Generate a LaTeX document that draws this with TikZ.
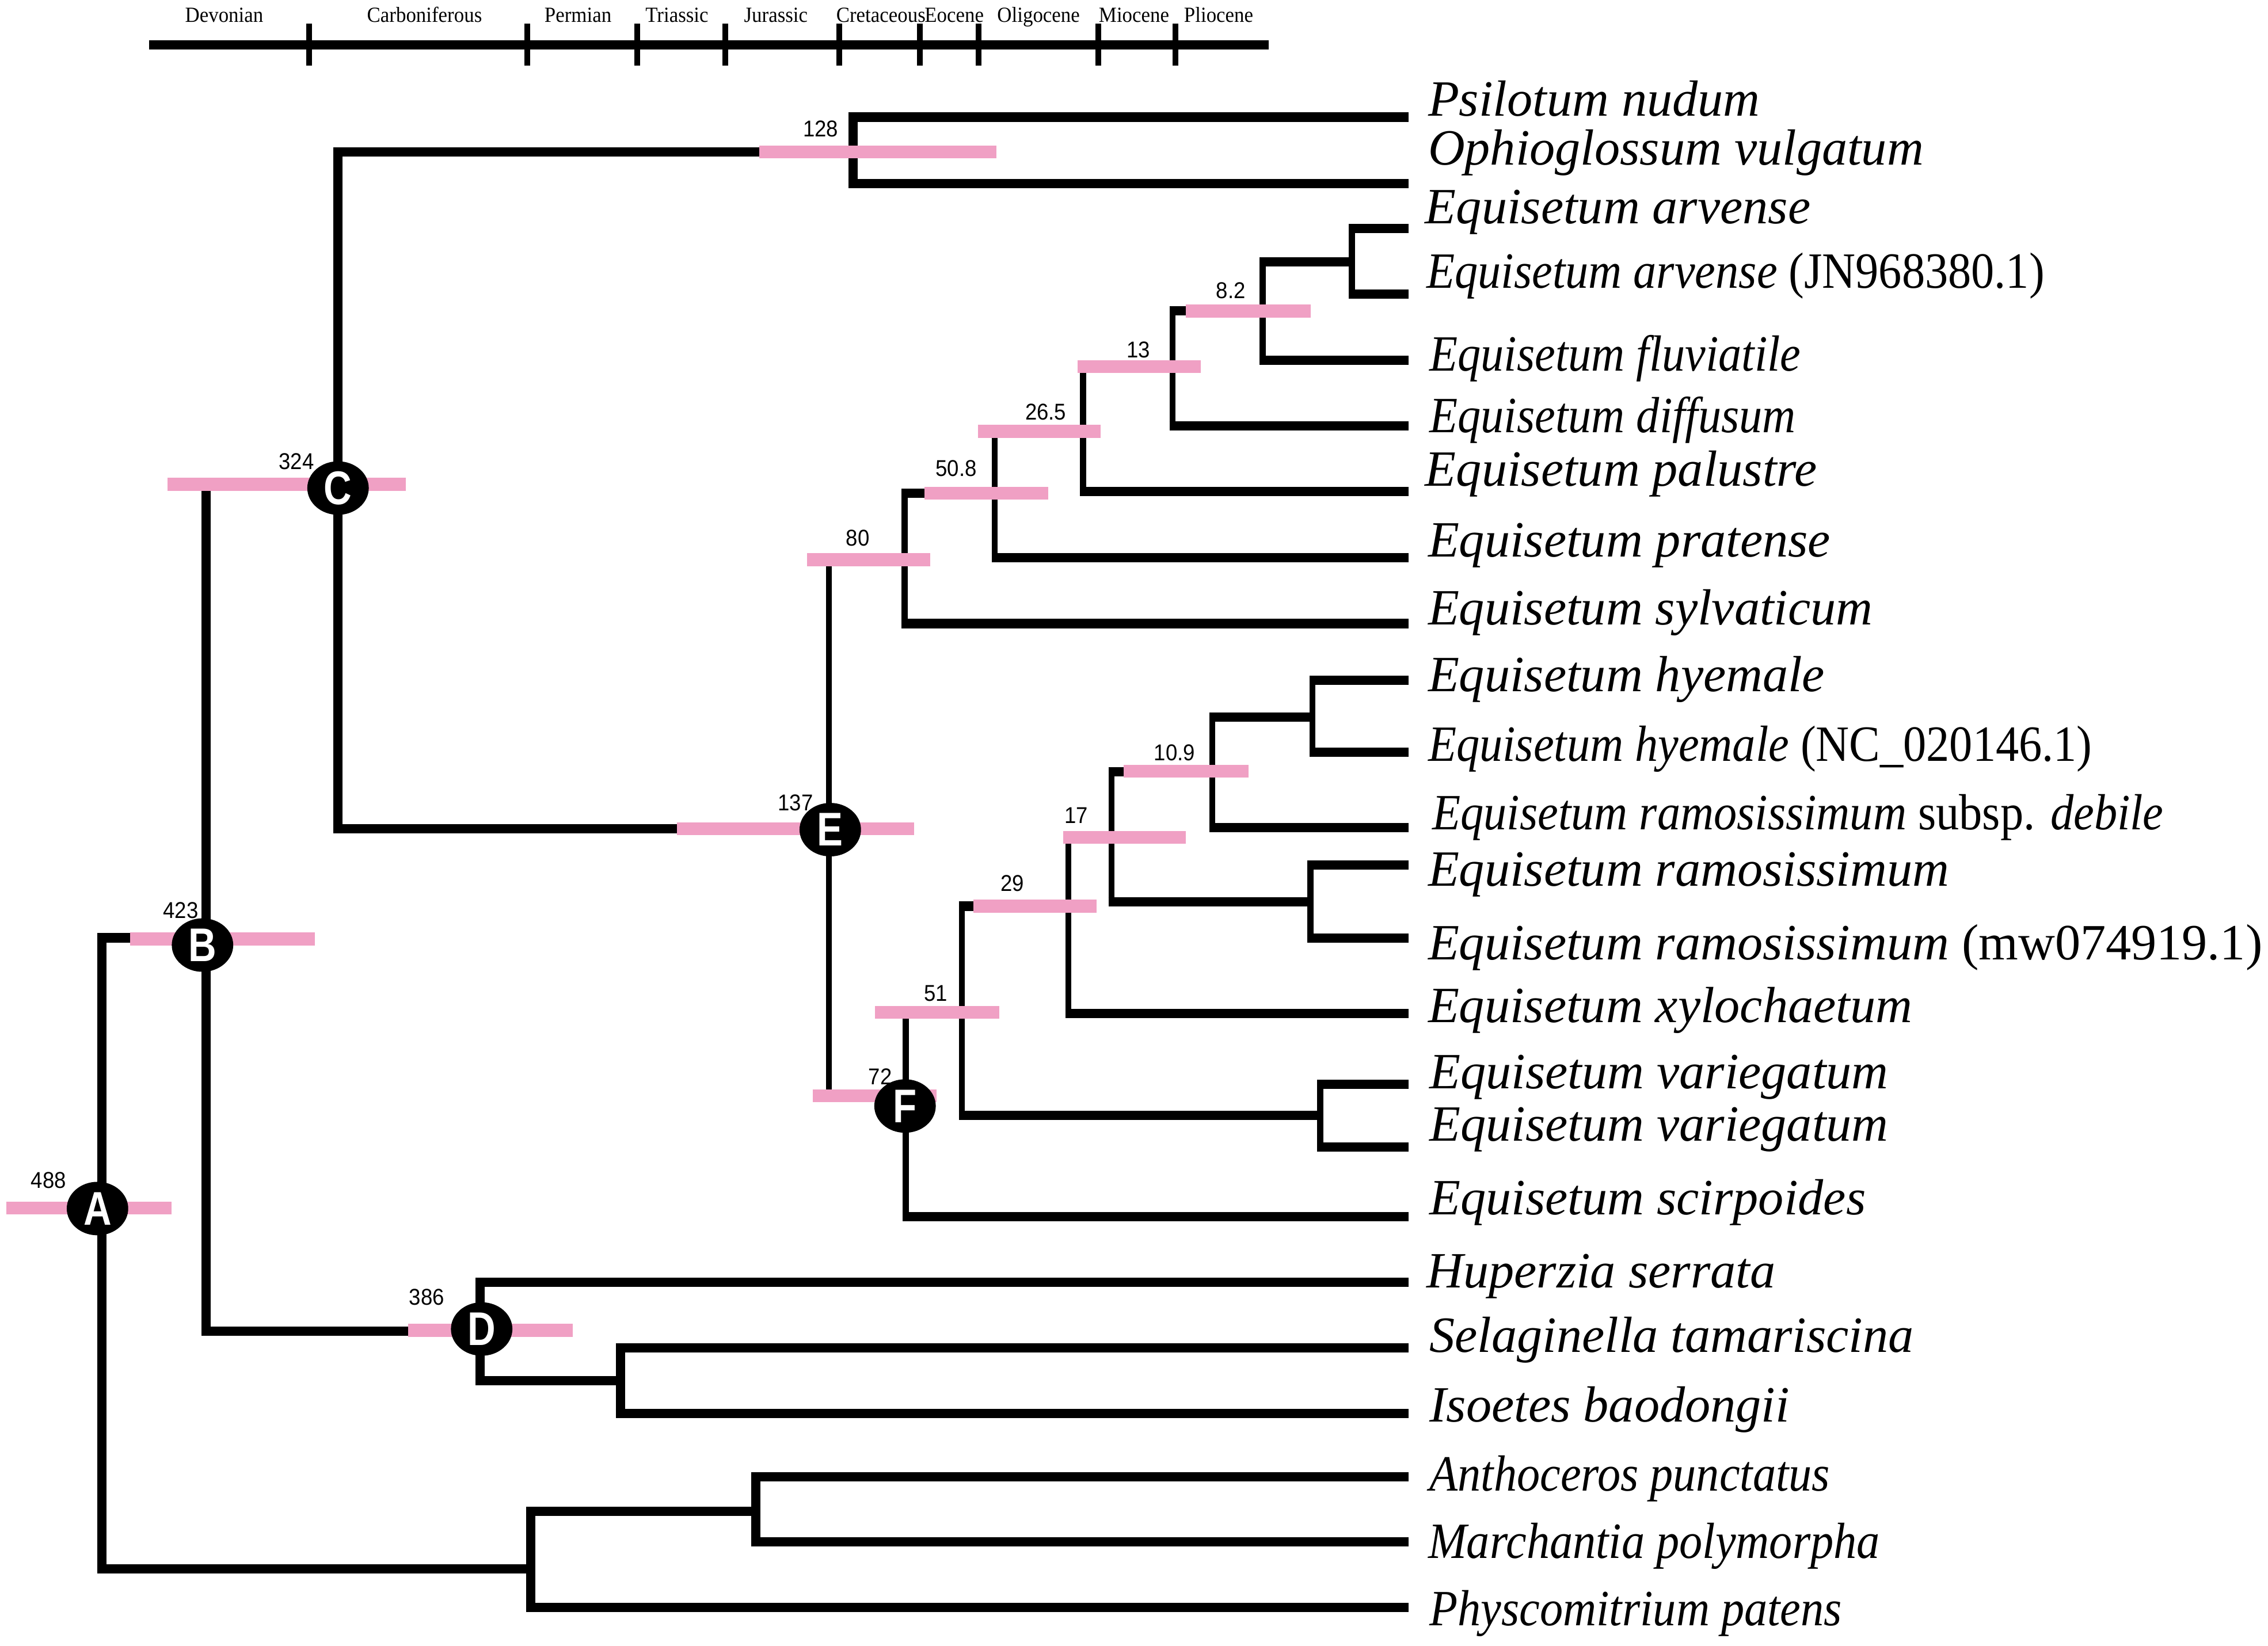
\documentclass[tikz,border=0pt]{standalone}
\usepackage{graphicx}
\usepackage{fontspec}
\setmainfont{Liberation Serif}
\newfontfamily\erafont[FakeStretch=0.93]{Liberation Serif}
\newfontfamily\agefont[FakeStretch=0.92]{Liberation Sans}
\newfontfamily\cladefont[FakeStretch=0.82]{Liberation Sans}
\usetikzlibrary{shapes.geometric}

\definecolor{hpd}{RGB}{240,160,196}

% vertical part (width #1 in cm) from parent #2, then horizontal to child #3
\newcommand{\twig}[3][0.128]{%
  \draw[line width=#1cm] (#2) -- (#2 |- #3);
  \draw[hbranch] ([xshift=-#1cm/2]#2 |- #3) -- (#3);}
% squeezed taxon label
\newcommand{\narrow}[1]{\scalebox{0.91}[1]{#1}}

\begin{document}
\begin{tikzpicture}[x=0.02cm,y=-0.02cm,
    hbranch/.style={line width=0.128cm},
    agebar/.style={hpd,line width=0.18cm},
    scalebar/.style={line width=0.124cm},
    tick/.style={line width=0.08cm},
    clade/.style={ellipse,fill=black,text=white,inner sep=0pt,
      minimum width=0.85cm,minimum height=0.74cm,
      font=\cladefont\bfseries\fontsize{18.6}{20}\selectfont},
    age/.style={inner sep=0pt,font=\agefont\fontsize{9}{10}\selectfont},
    taxon/.style={anchor=base west,inner sep=0pt,font=\fontsize{20}{22}\selectfont\itshape},
    era/.style={anchor=base,inner sep=0pt,font=\erafont\fontsize{8.5}{9}\selectfont}]

    \useasboundingbox (0,0) rectangle (1568,1138);

    % geological time scale
    \coordinate (ax0) at (103,31);
    \coordinate (ax1) at (877,31);
    \draw[scalebar] (ax0) -- (ax1);
    \foreach \x in {213.7,364.5,440.6,501.6,580.3,636,676.7,759.5,812.7}
        \draw[tick] (\x,16.5) -- (\x,45.5);
    \foreach \x/\e in {155/Devonian,293.5/Carboniferous,399.6/Permian,468/Triassic,
        536.4/Jurassic,609/Cretaceous,659.7/Eocene,718/Oligocene,784/Miocene,842.5/Pliocene}
        \node[era] (\e) at (\x,15.3) {\e};

    % tips
    \foreach \n/\y in {1/81,2/127,3/158,4/203.5,5/249,6/294.5,7/340,8/385.6,9/431.2,
        10/470.5,11/520,12/572.4,13/598,14/648.6,15/701,16/749.7,17/793,18/841.3,
        19/886.7,20/932,21/977.4,22/1021.2,23/1066.3,24/1111.4}
        \coordinate (t\n) at (974,\y);

    % inner nodes
    \coordinate (cA) at (70.4,835.5);
    \coordinate (cB) at (142.5,648.5);
    \coordinate (cC) at (233.6,335);
    \coordinate (cD) at (332,920.5);
    \coordinate (cE) at (573,573);
    \coordinate (cF) at (626.3,757.7);
    \coordinate (c128) at (589.6,105);
    \coordinate (c80) at (625.5,387);
    \coordinate (c508) at (687.7,341);
    \coordinate (c265) at (748.8,298.4);
    \coordinate (c13) at (810.6,253.6);
    \coordinate (c82) at (872.9,215);
    \coordinate (cArv) at (934.7,181);
    \coordinate (c51) at (665,700);
    \coordinate (c29) at (738.7,626.6);
    \coordinate (c17) at (768.4,579);
    \coordinate (c109) at (838.2,533.5);
    \coordinate (cHye) at (907.4,496);
    \coordinate (cRam) at (906,623.5);
    \coordinate (cVar) at (912.7,771.3);
    \coordinate (cSI) at (429,954.7);
    \coordinate (cBr) at (367,1084.7);
    \coordinate (cAM) at (522.5,1045);

    % branches
    \twig{cA}{cB}
    \twig{cA}{cBr}
    \twig{cB}{cC}
    \twig{cB}{cD}
    \twig{cC}{c128}
    \twig{cC}{cE}
    \twig{c128}{t1}
    \twig{c128}{t2}
    \twig[0.084]{cE}{c80}
    \twig[0.084]{cE}{cF}
    \twig[0.084]{c80}{c508}
    \twig[0.084]{c80}{t9}
    \twig[0.084]{c508}{c265}
    \twig[0.084]{c508}{t8}
    \twig[0.084]{c265}{c13}
    \twig[0.084]{c265}{t7}
    \twig[0.084]{c13}{c82}
    \twig[0.084]{c13}{t6}
    \twig[0.084]{c82}{cArv}
    \twig[0.084]{c82}{t5}
    \twig[0.084]{cArv}{t3}
    \twig[0.084]{cArv}{t4}
    \twig[0.084]{cF}{c51}
    \twig[0.084]{cF}{t18}
    \twig[0.084]{c51}{c29}
    \twig[0.084]{c51}{cVar}
    \twig[0.084]{c29}{c17}
    \twig[0.084]{c29}{t15}
    \twig[0.084]{c17}{c109}
    \twig[0.084]{c17}{cRam}
    \twig[0.084]{c109}{cHye}
    \twig[0.084]{c109}{t12}
    \twig[0.084]{cHye}{t10}
    \twig[0.084]{cHye}{t11}
    \twig[0.084]{cRam}{t13}
    \twig[0.084]{cRam}{t14}
    \twig[0.084]{cVar}{t16}
    \twig[0.084]{cVar}{t17}
    \twig{cD}{t19}
    \twig{cD}{cSI}
    \twig{cSI}{t20}
    \twig{cSI}{t21}
    \twig{cBr}{cAM}
    \twig{cBr}{t24}
    \twig{cAM}{t22}
    \twig{cAM}{t23}

    % 95% HPD bars
    \foreach \a/\b/\y in {4.2/118.7/835.3,90/217.8/649.4,116/280.5/335,282/396/920,
        468/632/573,562/647.5/757.7,525/689/105,558/643/387,639/724.5/341,
        676/761/298.4,745/830/253.5,820/906/215,605/691/700,673/758/626.6,
        735/820/579,777/863/533.3}
        \draw[agebar] (\a,\y) -- (\b,\y);

    % node ages
    \foreach \v/\x/\y [count=\i] in {128/567.3/89,324/205/319.3,8.2/851/201,13/787/242,
        26.5/723/285,50.8/661/324,80/593/372,137/550/555,10.9/812/520.5,17/744/564,
        29/700/611,51/647/687,72/608.5/744.6,423/125/629.4,488/33.5/816,386/295/897}
        \node[age] (age\i) at (\x,\y) {\v};

    \node[clade] (A) at (67.4,835.7) {A};
    \node[clade] (B) at (140,653.5) {B};
    \node[clade] (C) at (233.7,337.5) {C};
    \node[clade] (D) at (333,919) {D};
    \node[clade] (E) at (574,573.7) {E};
    \node[clade] (F) at (625.7,764.8) {F};

    % taxa
    \node[taxon] (s1) at (987,80) {Psilotum nudum};
    \node[taxon] (s2) at (987,114) {Ophioglossum vulgatum};
    \node[taxon] (s3) at (985,154.5) {Equisetum arvense};
    \node[taxon] (s4) at (986,199) {\narrow{Equisetum arvense \textup{(JN968380.1)}}};
    \node[taxon] (s5) at (988,256.5) {\narrow{Equisetum fluviatile}};
    \node[taxon] (s6) at (988,299) {\narrow{Equisetum diffusum}};
    \node[taxon] (s7) at (985,336) {Equisetum palustre};
    \node[taxon] (s8) at (987,385) {Equisetum pratense};
    \node[taxon] (s9) at (987,432) {Equisetum sylvaticum};
    \node[taxon] (s10) at (987,478) {Equisetum hyemale};
    \node[taxon] (s11) at (987,526.5) {\narrow{Equisetum hyemale \textup{(NC\_020146.1)}}};
    \node[taxon] (s12) at (990,573.5) {\narrow{Equisetum ramosissimum \textup{subsp.} debile}};
    \node[taxon] (s13) at (987,612.5) {Equisetum ramosissimum};
    \node[taxon] (s14) at (987,663.6) {Equisetum ramosissimum \textup{(mw074919.1)}};
    \node[taxon] (s15) at (987,707) {Equisetum xylochaetum};
    \node[taxon] (s16) at (988,752.6) {Equisetum variegatum};
    \node[taxon] (s17) at (988,789) {Equisetum variegatum};
    \node[taxon] (s18) at (988,840) {Equisetum scirpoides};
    \node[taxon] (s19) at (986,890.6) {Huperzia serrata};
    \node[taxon] (s20) at (988,935) {Selaginella tamariscina};
    \node[taxon] (s21) at (988,983) {Isoetes baodongii};
    \node[taxon] (s22) at (988,1031) {\narrow{Anthoceros punctatus}};
    \node[taxon] (s23) at (987,1077.5) {\narrow{Marchantia polymorpha}};
    \node[taxon] (s24) at (988,1124) {\narrow{Physcomitrium patens}};

\end{tikzpicture}
\end{document}
